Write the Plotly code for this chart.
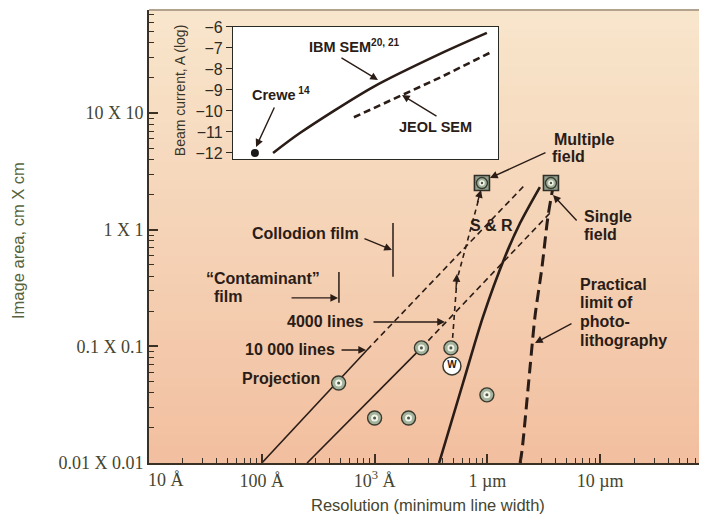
import plotly.graph_objects as go

# ---------------- data (resolution in Å, image side in cm) ----------------
dot_res = [480, 2600, 4750, 1000, 2000, 9900]
dot_side = [0.0485, 0.097, 0.097, 0.0243, 0.0243, 0.0384]
w_res = [4850]
w_side = [0.068]
field_res = [8950, 36600]
field_side = [2.51, 2.51]

l10k_solid_res = [100, 857]
l10k_solid_side = [0.01, 0.0931]
l10k_dash_res = [857, 21500]
l10k_dash_side = [0.0931, 2.42]
l4k_solid_res = [252, 2600]
l4k_solid_side = [0.01, 0.097]
l4k_dash_res = [2600, 35900]
l4k_dash_side = [0.097, 1.39]
ebeam_res = [3730, 6080, 9140, 14300, 19500, 29200]
ebeam_side = [0.01, 0.0485, 0.179, 0.583, 1.14, 2.32]
photo_res = [19500, 20300, 23900, 26400, 30500, 34400, 38200]
photo_side = [0.01, 0.0129, 0.0665, 0.179, 0.479, 1.285, 2.32]
sr_res = [4850, 5370, 8950]
sr_side = [0.0989, 0.371, 2.32]
collodion_res = [1456, 1456]
collodion_side = [1.14, 0.394]
contam_res = [483, 483]
contam_side = [0.434, 0.236]

# inset: beam current (log A) vs resolution
ibm_res = [126, 218, 968, 3800, 9900]
ibm_cur = [-12.0, -11.05, -8.86, -7.28, -6.28]
jeol_res = [656, 3800, 10500]
jeol_cur = [-10.3, -8.41, -7.23]
crewe_res = [87]
crewe_cur = [-12.0]

x_tick_vals = [100, 1000, 10000, 100000]
x_tick_text = ["100 Å", "10<sup>3</sup> Å", "1 µm", "10 µm"]
y_tick_vals = [0.01, 0.1, 1, 10]
y_tick_text = ["0.01 X 0.01", "0.1 X 0.1", "1 X 1", "10 X 10"]
inset_tick_vals = [-6, -7, -8, -9, -10, -11, -12]
inset_tick_text = ["−6", "−7", "−8", "−9", "−10", "−11", "−12"]

INK = "#2a1c16"
AXC = "#45452f"
FONT = "Liberation Sans"
SERIF = "Liberation Serif"

fig = go.Figure()


def line(xs, ys, width, dash="solid", xa="x", ya="y", shape="linear"):
    fig.add_trace(go.Scatter(x=xs, y=ys, mode="lines", xaxis=xa, yaxis=ya,
                             line=dict(color=INK, width=width, dash=dash, shape=shape,
                                       smoothing=0.8),
                             hoverinfo="skip", cliponaxis=True))


line(l10k_solid_res, l10k_solid_side, 1.6)
line(l10k_dash_res, l10k_dash_side, 1.6, "6px,4px")
line(l4k_solid_res, l4k_solid_side, 1.6)
line(l4k_dash_res, l4k_dash_side, 1.6, "6px,4px")
line(ebeam_res, ebeam_side, 2.6, shape="spline")
line(photo_res, photo_side, 3.0, "12px,6px", shape="spline")
line(sr_res, sr_side, 1.6, "5px,4px")
line(collodion_res, collodion_side, 1.5)
line(contam_res, contam_side, 1.5)

# square "field" markers
fig.add_trace(go.Scatter(x=field_res, y=field_side, mode="markers",
                         marker=dict(symbol="square", size=15, color="#8f9f8c",
                                     line=dict(color="#2f2f28", width=1.6)),
                         hoverinfo="skip"))


def bullseye(xs, ys, size=13):
    fig.add_trace(go.Scatter(x=xs, y=ys, mode="markers",
                             marker=dict(size=size, color="#a3b39c",
                                         line=dict(color="#3a3a30", width=1.4)),
                             hoverinfo="skip"))
    fig.add_trace(go.Scatter(x=xs, y=ys, mode="markers",
                             marker=dict(size=size * 0.5, color="#f4f4ea", line=dict(width=0)),
                             hoverinfo="skip"))
    fig.add_trace(go.Scatter(x=xs, y=ys, mode="markers",
                             marker=dict(size=size * 0.22, color="#4d5a48", line=dict(width=0)),
                             hoverinfo="skip"))


bullseye(dot_res, dot_side, 14)
bullseye(field_res, field_side, 11)

fig.add_trace(go.Scatter(x=w_res, y=w_side, mode="markers+text", text=["W"],
                         textposition="middle center",
                         textfont=dict(family=FONT, size=10, color=INK, weight="bold"),
                         marker=dict(size=18, color="white", line=dict(color="#3a3a30", width=1.5)),
                         hoverinfo="skip"))

# inset traces
line(ibm_res, ibm_cur, 2.6, "solid", "x2", "y2", shape="spline")
line(jeol_res, jeol_cur, 2.6, "7px,4px", "x2", "y2")
fig.add_trace(go.Scatter(x=crewe_res, y=crewe_cur, mode="markers", xaxis="x2", yaxis="y2",
                         marker=dict(size=8, color="#1a1a1a"), hoverinfo="skip"))

# empty trace to realise the right-hand tick axis
fig.add_trace(go.Scatter(x=[], y=[], yaxis="y3", hoverinfo="skip"))

# ---------------- background ----------------
shapes = []
nb = 48
top = (248, 230, 204)
bot = (242, 191, 160)
for i in range(nb):
    t = (i + 0.5) / nb
    c = tuple(round(bot[k] + (top[k] - bot[k]) * t) for k in range(3))
    shapes.append(dict(type="rect", xref="x domain", yref="y domain", x0=0, x1=1,
                       y0=i / nb, y1=(i + 1) / nb + 0.002, fillcolor="rgb(%d,%d,%d)" % c,
                       line=dict(width=0), layer="below"))
shapes.append(dict(type="rect", xref="x2 domain", yref="y2 domain", x0=0, x1=1, y0=0, y1=1,
                   fillcolor="white", line=dict(width=0), layer="below"))
shapes.append(dict(type="line", xref="x domain", yref="y domain", x0=0, x1=1, y0=1, y1=1,
                   line=dict(color="#6e5e50", width=1.2)))

# ---------------- annotations ----------------
ann = []
LBL = dict(family=FONT, size=16, color=INK, weight="bold")
LBL_S = dict(family=FONT, size=14.5, color=INK, weight="bold")


def text(s, x, y, xanchor="center", font=LBL):
    ann.append(dict(text=s, x=x, y=y, xref="x", yref="y", showarrow=False,
                    xanchor=xanchor, yanchor="middle", font=font))


def arrow(x, y, ax, ay):
    ann.append(dict(text="", x=x, y=y, xref="x", yref="y", ax=ax, ay=ay,
                    showarrow=True, arrowhead=2, arrowsize=1.1, arrowwidth=1.4,
                    arrowcolor=INK, standoff=0, startstandoff=0))


text("Collodion film", 2.383, -0.037)
text("“Contaminant”", 2.011, -0.422)
text("film", 1.559, -0.577, "left")
text("4000 lines", 2.569, -0.791)
text("10 000 lines", 2.250, -1.031)
text("Projection", 2.170, -1.279)
text("S & R", 4.032, 0.032)
text("Multiple", 4.865, 0.769)
text("field", 4.715, 0.623)
text("Single", 4.839, 0.117, "left")
text("field", 4.839, -0.045, "left")
text("Practical", 4.803, -0.474, "left")
text("limit of", 4.803, -0.628, "left")
text("photo-", 4.803, -0.791, "left")
text("lithography", 4.803, -0.954, "left")
text("IBM SEM<sup>20, 21</sup>", 2.401, 1.575, "left", LBL_S)
text("Crewe<sup> 14</sup>", 1.895, 1.160, "left", LBL_S)
text("JEOL SEM", 3.544, 0.880, "center", LBL_S)

arrow(3.154, -0.174, -29, -12)
arrow(2.676, -0.585, -48, 0)
arrow(3.624, -0.791, -73, 0)
arrow(2.924, -1.031, -26, 0)
arrow(4.023, 0.443, 57, -26)
arrow(4.582, 0.297, 25, 27)
arrow(4.422, -0.971, 38, -20)
arrow(3.030, 1.283, -38, -23)
arrow(1.949, 0.709, 19, -41)
arrow(3.243, 1.154, 36, 22)
arrow(3.730, -0.380, -1, 16)
arrow(3.943, 0.340, -4, 14)

TICKF = dict(family=SERIF, size=18, color=AXC)
ann.append(dict(text="10 Å", x=1.151, y=-0.0375, xref="x", yref="paper", showarrow=False,
                xanchor="center", yanchor="middle", font=TICKF))
ann.append(dict(text="Resolution (minimum line width)", x=0.5, y=-0.093, xref="paper",
                yref="paper", showarrow=False, xanchor="center", yanchor="middle",
                font=dict(family=FONT, size=16.5, color=AXC)))
ann.append(dict(text="Image area, cm X cm", x=-0.2348, y=0.4923, xref="paper", yref="paper",
                showarrow=False, textangle=-90, xanchor="center", yanchor="middle",
                font=dict(family=FONT, size=16.5, color="#56633c")))
ann.append(dict(text="Beam current, A (log)", x=0.0556, y=0.823, xref="paper", yref="paper",
                showarrow=False, textangle=-90, xanchor="center", yanchor="middle",
                font=dict(family=FONT, size=14, color="#3a3426")))

minor_x = [k * 10 ** d for d in range(1, 6) for k in range(2, 10)]
minor_y = [k * 10 ** d for d in range(-2, 2) for k in range(2, 10)]
minor_r = [k * 10 ** d for d in range(-1, 3) for k in range(2, 10)]

# the page body has an 8px margin, so the figure is sized/offset to compensate
fig.update_layout(
    template="none",
    width=699, height=514,
    margin=dict(l=141, r=0, t=2, b=59, autoexpand=False),
    paper_bgcolor="white", plot_bgcolor="rgba(0,0,0,0)",
    showlegend=False, shapes=shapes, annotations=ann,
    font=dict(family=FONT, color=AXC),
    xaxis=dict(type="log", range=[1, 5.947], tickmode="array", tickvals=x_tick_vals,
               ticktext=x_tick_text, ticks="inside", ticklen=9, tickwidth=1.5,
               tickcolor="#3a3024", showline=True, linewidth=2, linecolor="#3a3024",
               showgrid=False, zeroline=False, tickfont=TICKF, automargin=False,
               minor=dict(tickmode="array", tickvals=minor_x, ticks="inside", ticklen=5,
                          tickwidth=1.2, tickcolor="#3a3024", showgrid=False)),
    yaxis=dict(type="log", range=[-2, 1.883], tickmode="array", tickvals=y_tick_vals,
               ticktext=y_tick_text, ticks="inside", ticklen=9, tickwidth=1.5,
               tickcolor="#3a3024", showline=True, linewidth=2, linecolor="#3a3024",
               showgrid=False, zeroline=False, tickfont=TICKF, automargin=False,
               minor=dict(tickmode="array", tickvals=minor_y, ticks="inside", ticklen=5,
                          tickwidth=1.2, tickcolor="#3a3024", showgrid=False)),
    yaxis3=dict(type="log", overlaying="y", side="right", anchor="x",
                range=[-0.611, 2.535], tickmode="array", tickvals=[1, 10, 100],
                ticks="inside", ticklen=8, tickwidth=1.3, tickcolor="#5a4a3a",
                showticklabels=False, showline=False, showgrid=False, zeroline=False,
                automargin=False,
                minor=dict(tickmode="array", tickvals=minor_r, ticks="inside", ticklen=4,
                           tickwidth=1, tickcolor="#7a6a5a", showgrid=False)),
    xaxis2=dict(domain=[0.1505, 0.6254], anchor="y2", type="log", range=[1.745, 4.094],
                showticklabels=False, ticks="", showline=True, mirror=True, linewidth=1.3,
                linecolor="#2a2a24", showgrid=False, zeroline=False, automargin=False),
    yaxis2=dict(domain=[0.6711, 0.9625], anchor="x2", range=[-12.286, -6.0],
                tickmode="array", tickvals=inset_tick_vals, ticktext=inset_tick_text,
                ticks="outside", ticklen=6, tickwidth=1.3, tickcolor="#2a2a24",
                showline=True, mirror=True, linewidth=1.3, linecolor="#2a2a24",
                showgrid=False, zeroline=False, automargin=False,
                tickfont=dict(family=FONT, size=16, color="#2e2a22")),
)

fig.write_html("out.html")
